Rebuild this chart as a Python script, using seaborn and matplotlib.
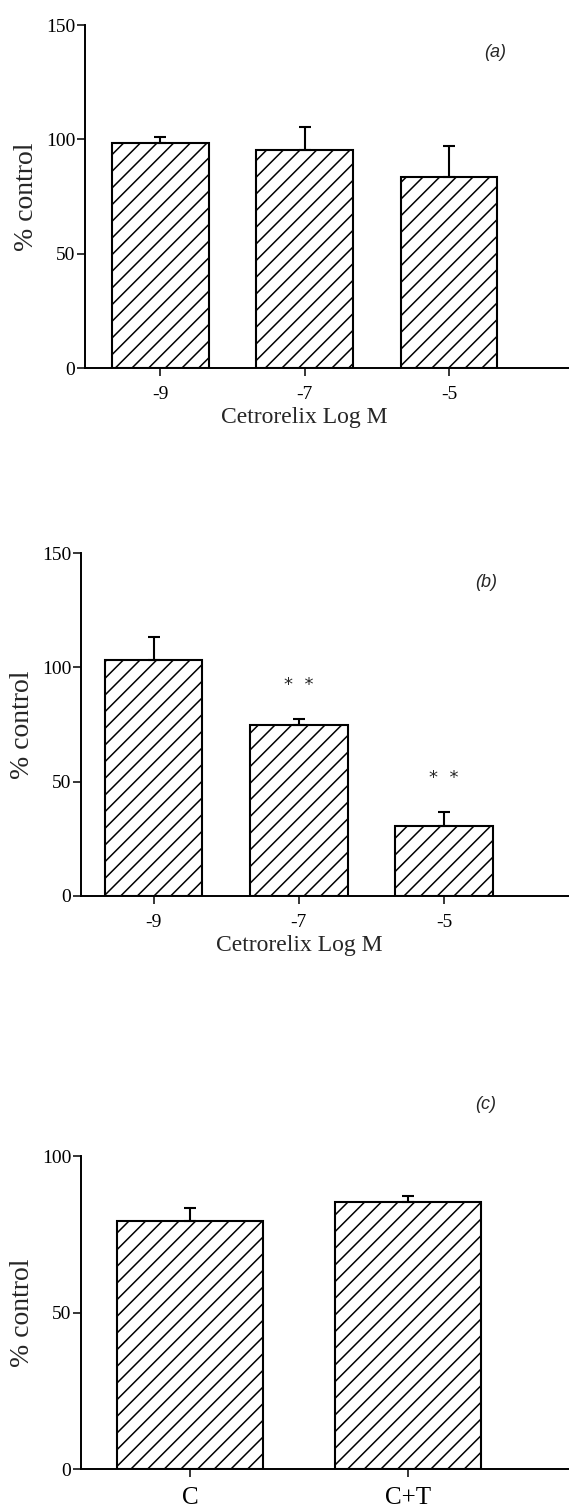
import matplotlib
matplotlib.use("Agg")
import matplotlib.pyplot as plt
import seaborn as sns
import numpy as np

# ---- data ----
conc_labels = ["-9", "-7", "-5"]
a_values = [98.3, 95.4, 83.4]
a_err = [2.9, 9.8, 13.6]
b_values = [103.1, 74.7, 30.7]
b_err = [10.2, 2.8, 5.9]
b_stars = ["", "*  *", "*  *"]
b_star_y = [0, 92.5, 51.7]
c_labels = ["C", "C+T"]
c_values = [79.2, 85.4]
c_err = [4.1, 1.8]

sns.set_theme(style="ticks")
plt.rcParams['font.family'] = ['Liberation Serif', 'DejaVu Serif']
plt.rcParams['hatch.linewidth'] = 1.1

fig = plt.figure(figsize=(5.69, 15.09), dpi=100)

serif = 'Liberation Serif'
sans = 'Liberation Sans'


def panel(rect, cats, vals, errs, ylim, yticks, xlim, tick_fs, xlabel=None):
    ax = fig.add_axes(rect)
    sns.barplot(x=cats, y=vals, color='white', edgecolor='black', linewidth=1.5,
                width=0.67, errorbar=None, ax=ax, saturation=1)
    for p in ax.patches:
        p.set_hatch('//')
        p.set_facecolor('white')
        p.set_edgecolor('black')
    pos = np.arange(len(cats))
    ax.errorbar(pos, vals, yerr=[np.zeros(len(vals)), errs], fmt='none',
                ecolor='black', elinewidth=1.5, capsize=4.0, capthick=1.5, zorder=5)
    ax.set_ylim(*ylim)
    ax.set_yticks(yticks)
    ax.set_xlim(*xlim)
    for s in ['top', 'right']:
        ax.spines[s].set_visible(False)
    for s in ['left', 'bottom']:
        ax.spines[s].set_linewidth(1.4)
        ax.spines[s].set_color('black')
    ax.tick_params(axis='both', direction='out', length=6, width=1.1, colors='black')
    ax.tick_params(axis='y', labelsize=14, pad=1)
    ax.tick_params(axis='x', labelsize=tick_fs, pad=7)
    for t in ax.get_xticklabels() + ax.get_yticklabels():
        t.set_fontfamily(serif)
    ax.set_ylabel('% control', fontsize=20, family=serif, labelpad=5)
    if xlabel:
        ax.set_xlabel(xlabel, fontsize=17, family=serif)
        xc = (1 - xlim[0]) / (xlim[1] - xlim[0])
        ax.xaxis.set_label_coords(xc, -0.115)
    else:
        ax.set_xlabel('')
    ax.set_facecolor('white')
    return ax


ax_a = panel([0.1494, 0.7561, 0.8506, 0.2273], conc_labels, a_values, a_err,
             (0, 150), [0, 50, 100, 150], (-0.52, 2.83), 14, 'Cetrorelix Log M')
ax_a.text(0.847, 0.921, '(a)', transform=ax_a.transAxes, fontsize=13,
          style='italic', family=sans, ha='center', va='center')

ax_b = panel([0.1424, 0.4064, 0.8576, 0.2269], conc_labels, b_values, b_err,
             (0, 150), [0, 50, 100, 150], (-0.5, 2.86), 14, 'Cetrorelix Log M')
ax_b.text(0.83, 0.916, '(b)', transform=ax_b.transAxes, fontsize=13,
          style='italic', family=sans, ha='center', va='center')
for i, (s, yy) in enumerate(zip(b_stars, b_star_y)):
    if s:
        ax_b.text(i, yy, s, fontsize=13, family='DejaVu Sans', ha='center', va='center')

ax_c = panel([0.1424, 0.0263, 0.8576, 0.2076], c_labels, c_values, c_err,
             (0, 100), [0, 50, 100], (-0.5, 1.74), 18)
ax_c.text(0.83, 1.163, '(c)', transform=ax_c.transAxes, fontsize=13,
          style='italic', family=sans, ha='center', va='center', clip_on=False)

fig.savefig('out.png', dpi=100, facecolor='white')
